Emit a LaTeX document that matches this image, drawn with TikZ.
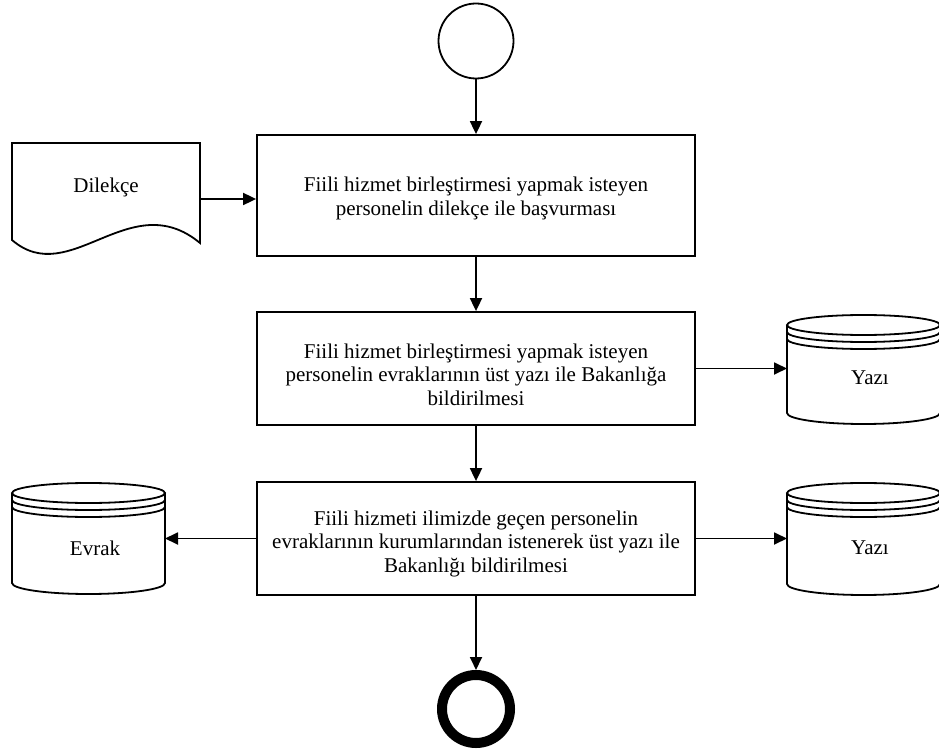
\documentclass[tikz,border=0pt]{standalone}
\usepackage{fontspec}
\setmainfont{Liberation Serif}
\usetikzlibrary{arrows.meta}

% Stacked-disc data store: #1 name, #2 left, #3 right, #4 top, #5 bottom (y measured downwards)
\newcommand\storecyl[5]{%
  \pgfmathsetmacro\cylcx{(#2+#3)/2}%
  \pgfmathsetmacro\cylrx{(#3-#2)/2}%
  \pgfmathsetmacro\cylmid{-(#4+#5)/2}%
  \draw[shapeline] (\cylcx,-#4-10) ellipse [x radius=\cylrx, y radius=10];
  \draw[shapeline] (#2,-#4-17) arc [start angle=180, end angle=360, x radius=\cylrx, y radius=10];
  \draw[shapeline] (#2,-#4-24) arc [start angle=180, end angle=360, x radius=\cylrx, y radius=10];
  \draw[shapeline] (#2,-#4-10) -- (#2,-#5+11)
    arc [start angle=180, end angle=360, x radius=\cylrx, y radius=11]
    -- (#3,-#4-10);
  \coordinate (#1-w) at (#2,\cylmid);
  \coordinate (#1-e) at (#3,\cylmid);
}

\begin{document}
\begin{tikzpicture}[x=1pt,y=1pt,
  shapeline/.style={line width=1.8pt, black},
  procbox/.style={draw, line width=1.8pt, minimum width=438pt, inner sep=0pt},
  boxtext/.style={align=center, inner sep=0pt, font=\fontsize{21}{23.5}\selectfont},
  label/.style={font=\fontsize{21}{23.5}\selectfont},
  flow/.style={line width=1.8pt, -{Triangle[length=13pt,width=12pt]}}]
\useasboundingbox (0,0) rectangle (939,-751);

% start and end events
\node[draw, circle, line width=1.8pt, minimum size=75pt, inner sep=0pt] (start) at (476,-41) {};
\node[draw, circle, line width=10pt, minimum size=68pt, inner sep=0pt, outer sep=5pt] (stop) at (476,-709) {};

% process steps
\node[procbox, minimum height=121pt] (b1) at (476,-195.5) {};
\node[boxtext, yshift=-3pt] (b1text) at (b1.center)
  {Fiili hizmet birleştirmesi yapmak isteyen\\personelin dilekçe ile başvurması};
\node[procbox, minimum height=113pt] (b2) at (476,-368.5) {};
\node[boxtext, yshift=-6pt] (b2text) at (b2.center)
  {Fiili hizmet birleştirmesi yapmak isteyen\\personelin evraklarının üst yazı ile Bakanlığa\\bildirilmesi};
\node[procbox, minimum height=113pt] (b3) at (476,-538.5) {};
\node[boxtext, yshift=-5pt] (b3text) at (b3.center)
  {Fiili hizmeti ilimizde geçen personelin\\evraklarının kurumlarından istenerek üst yazı ile\\Bakanlığı bildirilmesi};

% document: Dilekçe
\draw[shapeline] (12,-143) -- (200,-143) -- (200,-243)
  .. controls (130,-185) and (70,-290) .. (12,-240) -- cycle;
\coordinate (doc-e) at (200,-199);
\node[label] (doctext) at (106,-187) {Dilekçe};

% data stores
\storecyl{yazi1}{787}{940}{315}{424}
\node[label] (yazi1text) at (870,-378) {Yazı};
\storecyl{yazi2}{787}{940}{483}{595}
\node[label] (yazi2text) at (870,-548) {Yazı};
\storecyl{evrak}{12}{165}{483}{594}
\node[label] (evraktext) at (95,-548) {Evrak};

% connectors
\draw[flow] (start) -- (b1);
\draw[flow] (doc-e) -- (doc-e -| b1.west);
\draw[flow] (b1) -- (b2);
\draw[flow] (b2.east) -- (b2.east -| yazi1-w);
\draw[flow] (b2) -- (b3);
\draw[flow] (b3.west) -- (b3.west -| evrak-e);
\draw[flow] (b3.east) -- (b3.east -| yazi2-w);
\draw[flow] (b3) -- (stop);
\end{tikzpicture}
\end{document}
